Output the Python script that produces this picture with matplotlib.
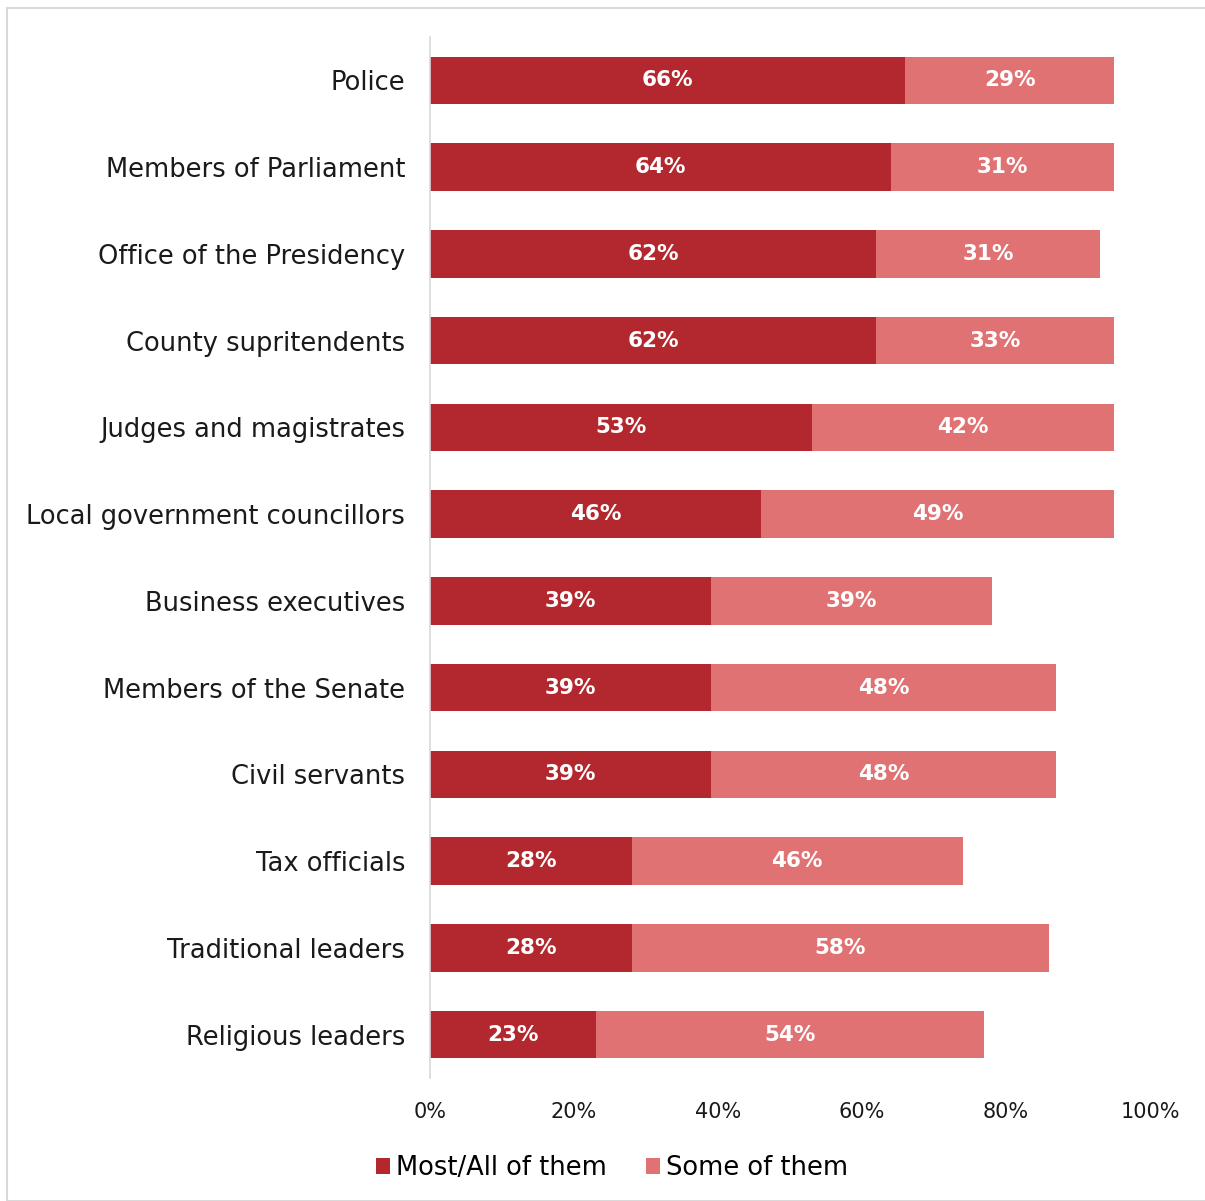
import matplotlib.pyplot as plt
from matplotlib.patches import Rectangle

# Trust survey: share saying "most/all" vs "some" of each group are corrupt
categories = [
    'Police', 'Members of Parliament', 'Office of the Presidency',
    'County supritendents', 'Judges and magistrates',
    'Local government councillors', 'Business executives',
    'Members of the Senate', 'Civil servants', 'Tax officials',
    'Traditional leaders', 'Religious leaders',
]
most_all = [66, 64, 62, 62, 53, 46, 39, 39, 39, 28, 28, 23]
some = [29, 31, 31, 33, 42, 49, 39, 48, 48, 46, 58, 54]
series_names = ['Most/All of them', 'Some of them']
xtick_values = [0, 20, 40, 60, 80, 100]

dark_red = '#B3282E'
light_red = '#E07274'

plt.rcParams['font.family'] = ['DejaVu Sans']

fig = plt.figure(figsize=(12.05, 12.01), dpi=100)
ax = fig.add_axes([430 / 1205, 1 - 1078 / 1201, 720 / 1205, 1041 / 1201])

ypos = list(range(len(categories)))
bars1 = ax.barh(ypos, most_all, height=0.55, color=dark_red, label=series_names[0])
bars2 = ax.barh(ypos, some, left=most_all, height=0.55, color=light_red, label=series_names[1])

for bars, vals, lefts in [(bars1, most_all, [0] * len(most_all)), (bars2, some, most_all)]:
    for y, v, l in zip(ypos, vals, lefts):
        ax.text(l + v / 2, y, f'{v}%', ha='center', va='center',
                color='white', fontsize=15.5, fontweight='bold')

ax.set_ylim(len(categories) - 0.5, -0.5)
ax.set_xlim(0, 100)
ax.set_yticks(ypos)
ax.set_yticklabels(categories, fontsize=18.5, color='#1a1a1a')
ax.set_xticks(xtick_values)
ax.set_xticklabels([f'{v}%' for v in xtick_values], fontsize=15, color='#1a1a1a')
ax.tick_params(axis='both', length=0)
ax.tick_params(axis='y', pad=18)
ax.tick_params(axis='x', pad=17)

for side in ['top', 'right', 'bottom']:
    ax.spines[side].set_visible(False)
ax.spines['left'].set_color('#D9D9D9')
ax.spines['left'].set_linewidth(1.2)

fig.legend(loc='center', bbox_to_anchor=(612 / 1205, 1 - 1168 / 1201), ncol=2,
           frameon=False, fontsize=18.5, handlelength=0.55, handleheight=0.55,
           handletextpad=0.25, columnspacing=1.5)

# light frame around the whole chart
fig.patches.append(Rectangle((7 / 1205, 0.5 / 1201), 1205 / 1205, 1193 / 1201,
                             transform=fig.transFigure, fill=False,
                             edgecolor='#D9D9D9', linewidth=1.5))

fig.savefig('out.png', dpi=100)
